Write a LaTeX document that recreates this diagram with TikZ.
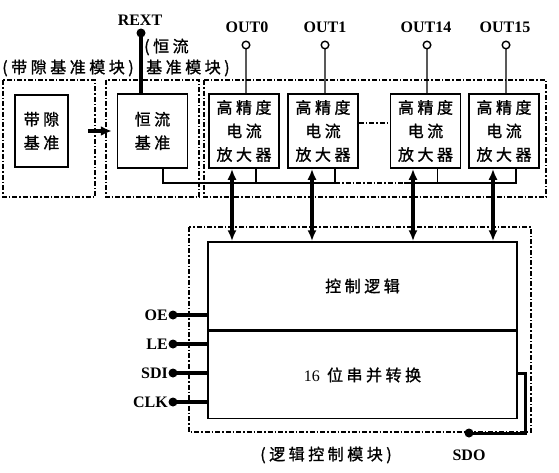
\documentclass[tikz,border=0pt]{standalone}
\usepackage{fontspec}
\setmainfont{Liberation Serif}
\newfontfamily\cjk[LetterSpace=22,FakeBold=1.2]{Noto Sans CJK SC}
\usetikzlibrary{arrows.meta}

\tikzset{
	blk/.style={draw,line width=1.5pt,minimum width=70pt,minimum height=74pt,inner sep=0pt,align=center,font=\cjk\fontsize{16}{23.5}\selectfont},
	modline/.style={line width=1.6pt,dash pattern=on 5pt off 2pt on 1.5pt off 2pt},
	lab/.style={inner sep=0pt,font=\cjk\fontsize{16}{16}\selectfont},
	pin/.style={inner sep=0pt,font=\bfseries\fontsize{16}{16}\selectfont},
	wire/.style={line width=1.4pt},
	fat/.style={line width=3.6pt},
	bus/.style={line width=3.4pt,{Latex[length=11pt,width=9pt]}-{Latex[length=11pt,width=9pt]}},
}

\begin{document}
\begin{tikzpicture}[x=1pt,y=-1pt]
	\useasboundingbox[fill=white] (0,0) rectangle (559,472);
	% modules
	\draw[modline] (3,80) rectangle (95,197);
	\draw[modline] (106,80) rectangle (199,197);
	\draw[modline] (204,80) rectangle (546,197);
	\draw[modline] (189,227) rectangle (531,432);
	\node[lab] (mbg) at (68,68) {(带隙基准模块)};
	\node[lab,anchor=west] (mcc1) at (144,47) {(恒流};
	\node[lab,anchor=west] (mcc2) at (146,68) {基准模块)};
	\node[lab] (mlog) at (326,455) {(逻辑控制模块)};
	% blocks
	\node[blk,minimum width=53pt,minimum height=72pt] (bg) at (41.5,131) {带隙\\基准};
	\node[blk] (cc) at (152.5,131) {恒流\\基准};
	\node[blk] (a0) at (244,131) {高精度\\电流\\放大器};
	\node[blk] (a1) at (323,131) {高精度\\电流\\放大器};
	\node[blk] (a14) at (425.5,131) {高精度\\电流\\放大器};
	\node[blk] (a15) at (504,131) {高精度\\电流\\放大器};
	\node[blk,minimum width=309pt,minimum height=88pt] (ctl) at (362.5,286) {控制逻辑};
	\node[blk,minimum width=309pt,minimum height=87pt,anchor=north] (sp) at (ctl.south) {{\normalfont 16} 位串并转换};
	\draw[fat,-{Latex[length=11pt,width=10pt]}] ([xshift=19pt]bg.east) -- ([xshift=-5pt]cc.west);
	\draw[modline] (a1.east) ++(0,-8) -- ([yshift=8pt]a14.west);
	% REXT
	\coordinate (rext) at (141,33);
	\node[pin] (rextl) at (140,20) {REXT};
	\fill (rext) circle (4.5);
	\draw[fat] (rext) -- (rext |- cc.north);
	% outputs
	\node[pin] (o0l) at (247,27) {OUT0};
	\node[pin] (o1l) at (325,27) {OUT1};
	\node[pin] (o14l) at (426,27) {OUT14};
	\node[pin] (o15l) at (505,27) {OUT15};
	\draw[wire] (246,45) circle (3.8) (246,48.8) -- (246,94)
		(325,45) circle (3.8) (325,48.8) -- (325,94)
		(427,45) circle (3.8) (427,48.8) -- (427,94)
		(506,45) circle (3.8) (506,48.8) -- (506,94);
	% bias bus
	\coordinate (b0) at (163,183);
	\draw[wire] (b0 |- cc.south) -- (b0) -- ([xshift=12pt]a1.south |- b0) -- ([xshift=12pt]a1.south);
	\draw[wire] ([xshift=12pt]a0.south) -- ([xshift=12pt]a0.south |- b0);
	\draw[modline,line width=1.4pt] ([xshift=12pt]a1.south |- b0) -- ([xshift=-22pt]a14.south |- b0);
	\draw[wire] ([xshift=-22pt]a14.south |- b0) -- ([xshift=12pt]a15.south |- b0) -- ([xshift=12pt]a15.south);
	\draw[wire] ([xshift=12pt]a14.south) -- ([xshift=12pt]a14.south |- b0);
	% data paths
	\draw[bus] ([xshift=-12pt]a0.south) -- ([xshift=-12pt]a0.south |- ctl.north);
	\draw[bus] ([xshift=-11pt]a1.south) -- ([xshift=-11pt]a1.south |- ctl.north);
	\draw[bus] ([xshift=-12.5pt]a14.south) -- ([xshift=-12.5pt]a14.south |- ctl.north);
	\draw[bus] ([xshift=-11pt]a15.south) -- ([xshift=-11pt]a15.south |- ctl.north);
	% inputs
	\coordinate (oe) at (173,315);
	\coordinate (le) at (173,344);
	\coordinate (sdi) at (173,373);
	\coordinate (clk) at (173,402);
	\node[pin,anchor=east] (oel) at (168,315) {OE};
	\node[pin,anchor=east] (lel) at (168,344) {LE};
	\node[pin,anchor=east] (sdil) at (168,373) {SDI};
	\node[pin,anchor=east] (clkl) at (168,402) {CLK};
	\fill (oe) circle (4.5) (le) circle (4.5) (sdi) circle (4.5) (clk) circle (4.5);
	\draw[fat] (oe) -- (oe -| ctl.west) (le) -- (le -| sp.west) (sdi) -- (sdi -| sp.west) (clk) -- (clk -| sp.west);
	% SDO
	\coordinate (sdo) at (469,433);
	\node[pin] (sdol) at (469,455) {SDO};
	\draw[line width=3pt] ([yshift=2pt]sp.east) -- ++(8,0) |- (sdo);
	\fill (sdo) circle (4.5);
\end{tikzpicture}
\end{document}
